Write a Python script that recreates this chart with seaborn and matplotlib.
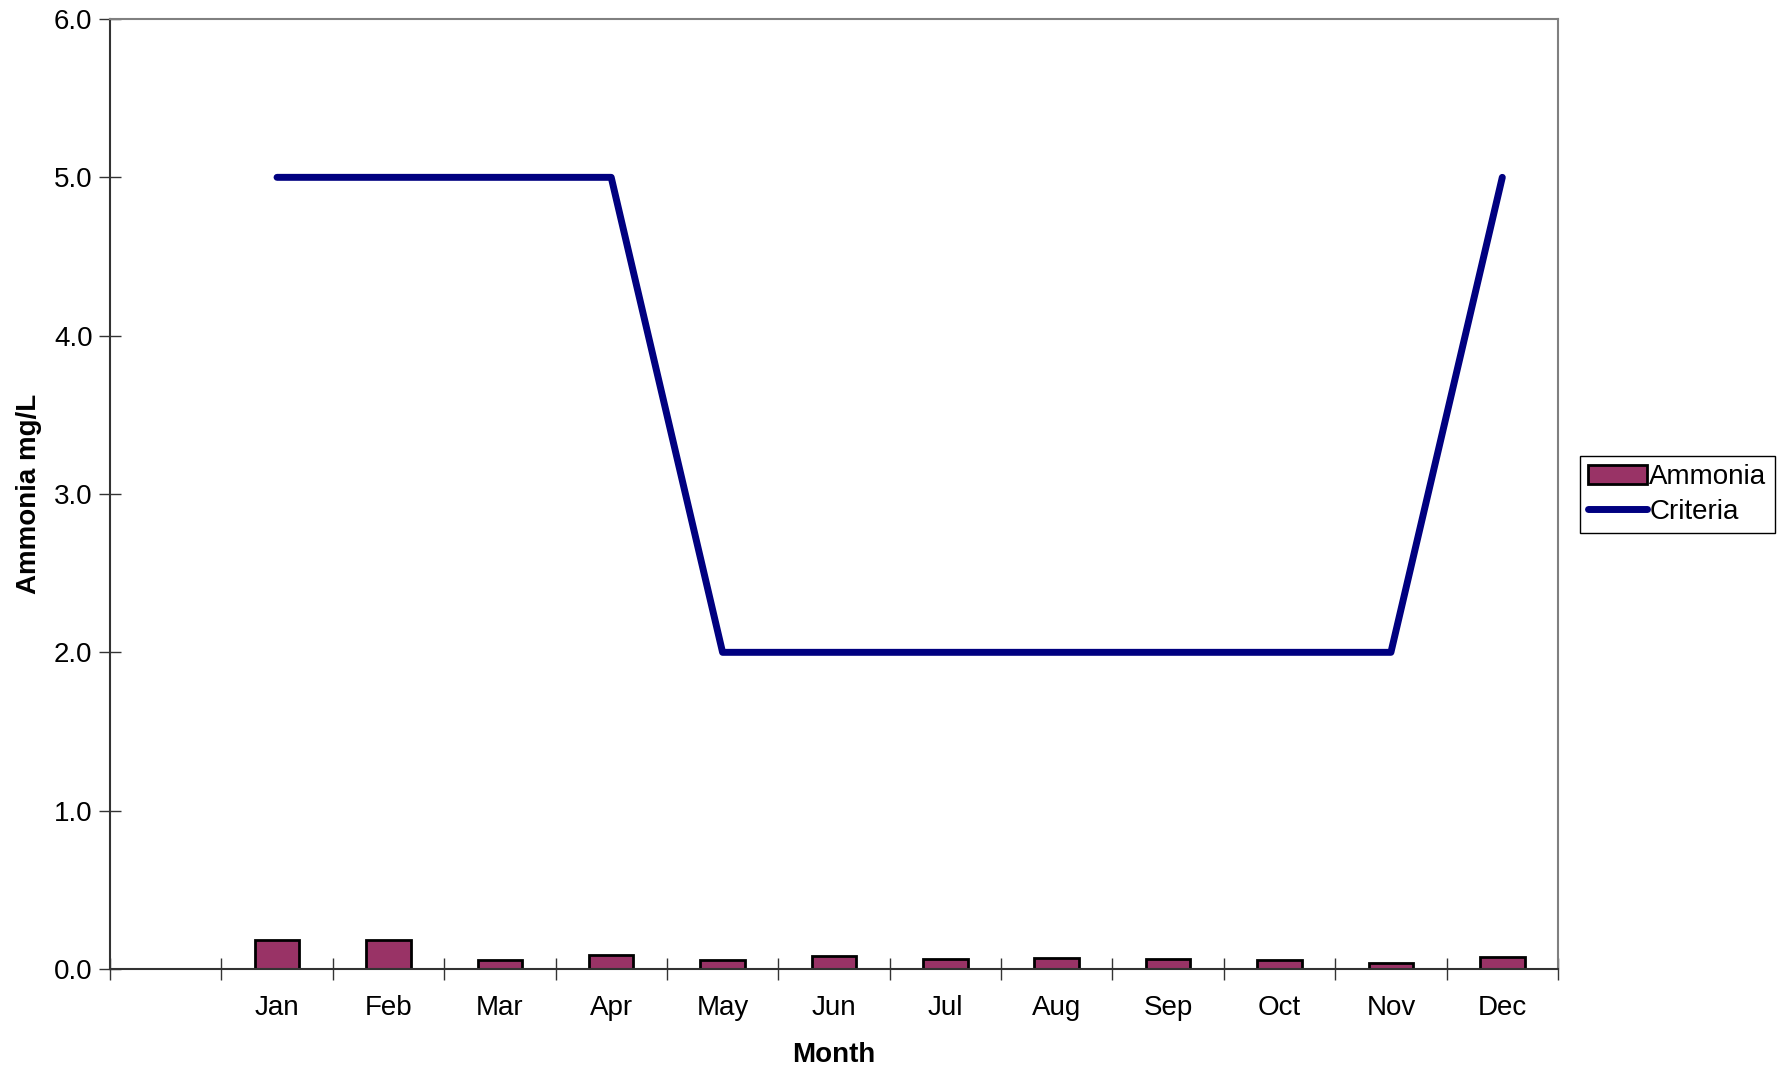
import numpy as np
import pandas as pd
import matplotlib
matplotlib.use("Agg")
import matplotlib.pyplot as plt
from matplotlib.patches import Patch
from matplotlib.lines import Line2D
from matplotlib.ticker import FixedLocator, FormatStrFormatter
import seaborn as sns

# Monthly data
months = ["Jan", "Feb", "Mar", "Apr", "May", "Jun", "Jul", "Aug", "Sep", "Oct", "Nov", "Dec"]
ammonia = [0.18, 0.18, 0.055, 0.09, 0.055, 0.08, 0.06, 0.07, 0.06, 0.055, 0.035, 0.075]
criteria = [5.0, 5.0, 5.0, 5.0, 2.0, 2.0, 2.0, 2.0, 2.0, 2.0, 2.0, 5.0]
y_ticks = [0.0, 1.0, 2.0, 3.0, 4.0, 5.0, 6.0]

sns.set_style("white")
plt.rcParams["font.family"] = ["Liberation Sans", "DejaVu Sans"]
plt.rcParams["text.color"] = "black"
plt.rcParams["axes.labelcolor"] = "black"
plt.rcParams["xtick.labelcolor"] = "black"
plt.rcParams["ytick.labelcolor"] = "black"

bar_color = "#993366"
line_color = "#000080"
fs = 20

df = pd.DataFrame({"Month": months, "Ammonia": ammonia, "Criteria": criteria})

fig = plt.figure(figsize=(17.82, 10.68), dpi=100)
ax = fig.add_axes([0.0617, 0.0927, 0.8126, 0.8895])

sns.barplot(data=df, x="Month", y="Ammonia", order=months, color=bar_color,
            width=0.4, edgecolor="black", linewidth=2.0, saturation=1, ax=ax)

pos = np.arange(len(months))
sns.lineplot(x=pos, y=df["Criteria"].to_numpy(), color=line_color,
             linewidth=5.0, ax=ax, legend=False)

# Leading blank category slot before January
ax.set_xlim(-1.5, len(months) - 0.5)
ax.set_ylim(0, 6)

ax.set_yticks(y_ticks)
ax.yaxis.set_major_formatter(FormatStrFormatter("%.1f"))
ax.set_xticks(pos)
ax.set_xticklabels(months)
ax.xaxis.set_minor_locator(FixedLocator(np.arange(-1.5, len(months), 1.0)))

ax.tick_params(axis="x", which="major", length=0, pad=19, labelsize=fs)
ax.tick_params(axis="x", which="minor", length=16, width=1.0, direction="inout",
               color="#333333", bottom=True)
ax.tick_params(axis="y", which="major", length=16, width=1.0, direction="inout",
               color="#333333", labelsize=fs, pad=4.5, left=True)

ax.set_xlabel("Month", fontsize=fs, fontweight="bold", labelpad=14.5)
ax.set_ylabel("Ammonia mg/L", fontsize=fs, fontweight="bold", labelpad=8.5)

for side in ["top", "right"]:
    ax.spines[side].set_color("#808080")
    ax.spines[side].set_linewidth(1.5)
for side in ["left", "bottom"]:
    ax.spines[side].set_color("#333333")
    ax.spines[side].set_linewidth(1.5)

handles = [
    Patch(facecolor=bar_color, edgecolor="black", linewidth=2.0, label="Ammonia"),
    Line2D([0], [0], color=line_color, linewidth=5.0, label="Criteria"),
]
leg = fig.legend(handles=handles, loc="upper left", bbox_to_anchor=(0.8866, 0.573),
                 fontsize=fs, frameon=True, fancybox=False, framealpha=1,
                 handlelength=2.1, handletextpad=0.1, borderpad=0.3,
                 labelspacing=0.3, borderaxespad=0)
leg.get_frame().set_edgecolor("black")
leg.get_frame().set_linewidth(1.0)

fig.savefig("out.png", dpi=100, facecolor="white")
